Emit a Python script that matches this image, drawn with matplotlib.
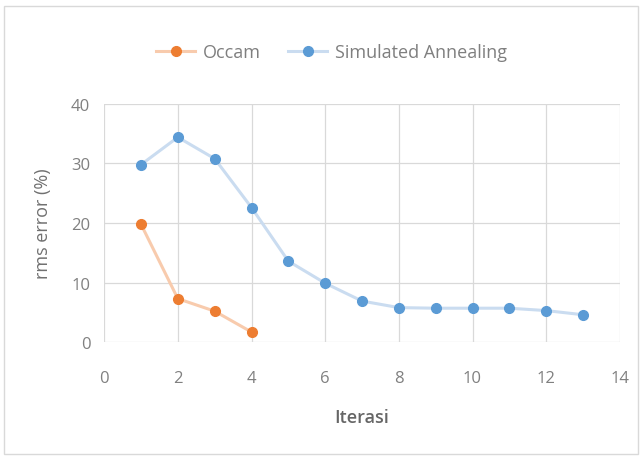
import matplotlib.pyplot as plt
from matplotlib.patches import Rectangle
from matplotlib.lines import Line2D

iterasi_occam = [1, 2, 3, 4]
rms_occam = [19.8, 7.3, 5.2, 1.7]

iterasi_sa = [1, 2, 3, 4, 5, 6, 7, 8, 9, 10, 11, 12, 13]
rms_sa = [29.8, 34.4, 30.8, 22.6, 13.6, 9.9, 6.9, 5.8, 5.7, 5.7, 5.7, 5.3, 4.6]

x_ticks = [0, 2, 4, 6, 8, 10, 12, 14]
y_ticks = [0, 10, 20, 30, 40]

ORANGE = '#ED7D31'
BLUE = '#5B9BD5'

plt.rcParams['font.family'] = ['Open Sans', 'DejaVu Sans']

fig = plt.figure(figsize=(6.43, 4.60), dpi=100)
fig.patch.set_facecolor('white')
fig.add_artist(Rectangle((0.006, 0.01), 0.986, 0.975, transform=fig.transFigure,
                         facecolor='none', edgecolor='#d9d9d9', lw=1.0))

ax = fig.add_axes([0.162, 0.254, 0.802, 0.518])

ax.plot(iterasi_occam, rms_occam, color='#f8cbad', lw=2.2, zorder=2)
ax.plot(iterasi_occam, rms_occam, 'o', color=ORANGE, ms=7, zorder=3)
ax.plot(iterasi_sa, rms_sa, color='#cadcf0', lw=2.2, zorder=2)
ax.plot(iterasi_sa, rms_sa, 'o', color=BLUE, ms=7, zorder=3)

ax.set_xlim(0, 14)
ax.set_ylim(0, 40)
ax.set_xticks(x_ticks)
ax.set_yticks(y_ticks)
ax.grid(True, color='#d9d9d9', lw=0.9)
ax.set_axisbelow(True)
for s in ax.spines.values():
    s.set_visible(False)
ax.tick_params(length=0, labelsize=12, colors='#808080')
ax.tick_params(axis='x', pad=20)
ax.tick_params(axis='y', pad=10)

ax.set_xlabel('Iterasi', fontsize=13, color='#666666', fontweight='semibold', labelpad=16)
ax.set_ylabel('rms error (%)', fontsize=13, color='#707070', labelpad=14)

handles = [Line2D([], [], color='#f8cbad', lw=2.2, marker='o', mfc=ORANGE, mec=ORANGE, ms=7),
           Line2D([], [], color='#cadcf0', lw=2.2, marker='o', mfc=BLUE, mec=BLUE, ms=7)]
fig.legend(handles, ['Occam', 'Simulated Annealing'], loc='center', bbox_to_anchor=(0.515, 0.885),
           ncol=2, frameon=False, fontsize=13, labelcolor='#7f7f7f', handlelength=2.2,
           columnspacing=1.5, handletextpad=0.4)

fig.savefig('out.png', dpi=100)
